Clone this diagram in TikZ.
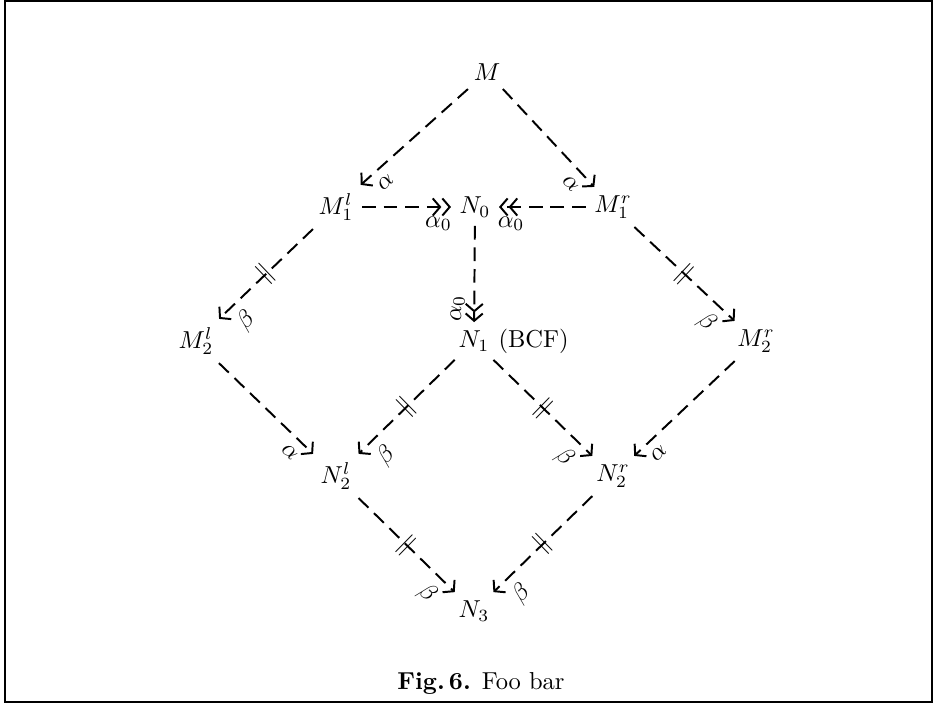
\documentclass[tikz,border=0pt]{standalone}
\usetikzlibrary{arrows.meta}
\begin{document}
\begin{tikzpicture}[x=0.408pt, y=-0.408pt, >={Straight Barb[length=3pt, width=7pt]},
    dasharrow/.style={thick, dash pattern=on 5.6pt off 3.2pt, ->},
    dashepi/.style={thick, dash pattern=on 5.6pt off 3.2pt, ->>},
    lbl/.style={auto, swap, sloped, pos=0.86, inner sep=3.5pt},
    eqmark/.style={sloped, midway, inner sep=0pt}]
        \useasboundingbox (0,0) rectangle (936,704);
        \draw[line width=0.5pt] (5,1) rectangle (932,702);
        \node (M) at (487, 72) {$M$};
        \node (M1l) at (336, 207) {$M_1^l$};
        \node (N0) at (475, 207) {$N_0$};
        \node (M1r) at (613, 207) {$M_1^r$};
        \node (M2l) at (196, 341) {$M_2^l$};
        \node[label={[label distance=-3.3pt]right:(BCF)}] (N1) at (474, 341) {$N_1$};
        \node (M2r) at (756, 341) {$M_2^r$};
        \node (N2l) at (336, 476) {$N_2^l$};
        \node (N2r) at (613, 476) {$N_2^r$};
        \node (N3) at (474, 611) {$N_3$};
        \node (cap) at (481, 683) {\textbf{Fig.\,6.} Foo bar};
        \draw[dasharrow] (M) -- (M1l) node[lbl] {$\alpha$};
        \draw[dasharrow] (M) -- (M1r) node[lbl] {$\alpha$};
        \draw[dashepi] (M1l) -- (N0) node[lbl] {$\alpha_0$};
        \draw[dashepi] (M1r) -- (N0) node[lbl] {$\alpha_0$};
        \draw[dashepi] (N0) -- (N1) node[pos=0.86, anchor=south, rotate=90, inner sep=3.5pt] {$\alpha_0$};
        \draw[dasharrow] (M1l) -- (M2l) node[eqmark] {$\parallel$} node[lbl] {$\beta$};
        \draw[dasharrow] (M1r) -- (M2r) node[eqmark] {$\parallel$} node[lbl] {$\beta$};
        \draw[dasharrow] (M2l) -- (N2l) node[lbl] {$\alpha$};
        \draw[dasharrow] (M2r) -- (N2r) node[lbl] {$\alpha$};
        \draw[dasharrow] (N1) -- (N2l) node[eqmark] {$\parallel$} node[lbl] {$\beta$};
        \draw[dasharrow] (N1) -- (N2r) node[eqmark] {$\parallel$} node[lbl] {$\beta$};
        \draw[dasharrow] (N2l) -- (N3) node[eqmark] {$\parallel$} node[lbl] {$\beta$};
        \draw[dasharrow] (N2r) -- (N3) node[eqmark] {$\parallel$} node[lbl] {$\beta$};
\end{tikzpicture}
\end{document}
